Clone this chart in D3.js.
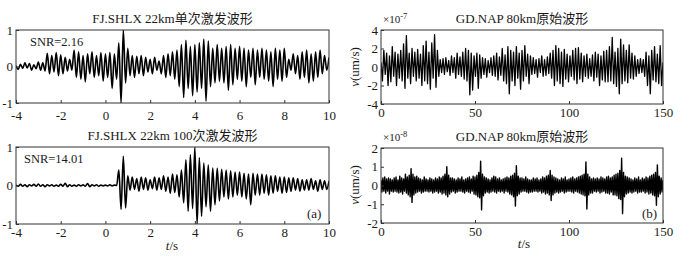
<!DOCTYPE html>
<html>
<head>
<meta charset="utf-8">
<script src="https://cdn.jsdelivr.net/npm/d3@7"></script>
<style>
body{margin:0;background:#fff;}
text{font-family:"Liberation Serif","Noto Sans CJK SC",serif;fill:#1a1a1a;}
</style>
</head>
<body>
<svg id="fig" width="690" height="257"></svg>
<script>
// ---- data ----
const titles = ['FJ.SHLX 22km单次激发波形', 'FJ.SHLX 22km 100次激发波形', 'GD.NAP 80km原始波形', 'GD.NAP 80km原始波形'];
const snrLabels = ['SNR=2.16', 'SNR=14.01'];
const tTicksA = [-4, -2, 0, 2, 4, 6, 8, 10];
const tTicksB = [0, 50, 100, 150];
const ampTicksA = [-1, 0, 1];
const velTicksB1 = [-4, -2, 0, 2, 4];
const velTicksB2 = [-2, -1, 0, 1, 2];
const expB1 = '-7', expB2 = '-8';

// single shot, t from -4 s, 0.1 s per sample
const dtA = 0.1;
const single = [
  0.02,-0.08,0.06,-0.05,0.1,-0.04,0.08,-0.1,0.05,-0.06,
  0.12,-0.1,0.1,-0.12,0.36,-0.2,0.3,-0.15,0.38,-0.25,
  0.32,-0.2,0.25,-0.12,0.2,-0.1,0.45,-0.3,0.4,-0.35,
  0.3,-0.42,0.35,-0.2,0.4,-0.3,0.3,-0.25,0.38,-0.4,
  0.35,-0.3,0.38,-0.6,0.34,-0.35,0.65,-1.0,1.0,-0.45,
  0.5,-0.25,0.3,-0.3,0.28,-0.2,0.3,-0.25,0.25,-0.15,
  0.2,-0.2,0.25,-0.1,0.15,-0.2,0.3,-0.3,0.35,-0.25,
  0.4,-0.35,0.45,-0.55,0.6,-0.85,0.72,-0.6,0.55,-0.8,
  0.6,-0.7,0.65,-0.6,0.75,-0.95,0.7,-0.55,0.5,-0.45,
  0.6,-0.4,0.5,-0.45,0.55,-0.65,0.6,-0.5,0.5,-0.35,
  0.55,-0.4,0.5,-0.55,0.45,-0.3,0.5,-0.5,0.45,-0.3,
  0.5,-0.35,0.45,-0.4,0.4,-0.55,0.5,-0.35,0.45,-0.4,
  0.5,-0.3,0.2,-0.1,0.35,-0.2,0.3,-0.35,0.4,-0.3,
  0.45,-0.45,0.35,-0.4,0.4,-0.3,0.45,-0.2,0.3,-0.1,
  0.25
];
// 100 stacks
const stacked = [
  0.01,-0.02,0.03,-0.02,0.02,-0.03,0.02,-0.01,0.03,-0.02,
  0.04,-0.02,0.02,-0.03,0.02,-0.01,0.02,-0.02,0.01,-0.02,
  0.03,-0.02,0.06,-0.03,0.02,-0.02,0.01,-0.02,0.02,-0.01,
  0.02,-0.02,0.05,-0.03,0.02,-0.01,0.02,-0.02,0.01,-0.01,
  0.01,-0.01,0.02,-0.01,0.01,0.0,0.4,-0.62,0.76,-0.58,
  0.25,-0.12,0.22,-0.1,0.18,-0.15,0.22,-0.1,0.2,-0.12,
  0.15,-0.08,0.22,-0.12,0.2,-0.1,0.25,-0.15,0.22,-0.2,
  0.3,-0.18,0.28,-0.3,0.4,-0.45,0.67,-0.67,0.8,-0.6,
  1.0,-1.0,0.72,-0.8,0.58,-0.55,0.53,-0.67,0.45,-0.5,
  0.45,-0.4,0.42,-0.3,0.4,-0.35,0.38,-0.3,0.35,-0.25,
  0.35,-0.3,0.32,-0.35,0.3,-0.5,0.32,-0.25,0.3,-0.25,
  0.3,-0.2,0.28,-0.25,0.25,-0.2,0.25,-0.15,0.22,-0.2,
  0.22,-0.18,0.2,-0.15,0.2,-0.12,0.18,-0.15,0.15,-0.12,
  0.15,-0.12,0.18,-0.1,0.12,-0.15,0.15,-0.1,0.12,-0.1,
  0.12
];
// raw record, x1e-7 um/s, 0.75 s per sample
const dtB1 = 0.75;
const rawB1 = [
  0.5,-1.5,1.8,-0.8,1.5,-2.0,1.2,-1.6,2.2,-1.0,1.6,-2.0,1.4,-1.2,1.8,-1.5,2.5,-2.3,3.4,-1.2,
  1.5,-1.8,2.0,-1.0,1.6,-1.5,1.9,-1.2,1.4,-2.0,2.3,-1.5,2.8,-1.8,1.6,-2.4,2.6,-1.2,3.5,-2.2,
  1.8,-1.0,0.8,-0.6,0.9,-0.8,1.0,-0.5,0.7,-0.9,1.2,-0.6,1.0,-1.2,1.5,-0.8,1.1,-1.0,1.6,-1.3,
  2.0,-1.5,1.8,-3.0,1.5,-2.5,1.2,-1.0,1.5,-2.3,1.3,-1.2,1.0,-0.8,0.9,-1.1,0.7,-0.6,1.0,-0.9,
  1.2,-1.0,1.5,-1.4,1.1,-0.9,2.0,-1.5,1.3,-1.8,2.2,-2.9,1.8,-1.5,1.6,-2.0,2.2,-1.2,1.5,-2.4,
  1.8,-1.5,2.3,-1.0,1.4,-1.8,1.2,-0.8,1.0,-0.7,0.8,-1.1,0.9,-0.6,1.2,-1.0,0.8,-0.9,1.1,-0.7,
  1.5,-1.2,1.8,-2.0,2.3,-1.5,2.0,-1.8,1.6,-2.1,1.9,-1.3,1.4,-1.6,1.2,-1.0,1.8,-1.4,2.0,-1.8,
  2.1,-1.3,1.5,-1.6,1.2,-1.0,1.4,-1.2,0.9,-1.0,1.3,-1.5,1.6,-1.1,1.4,-2.0,1.2,-1.4,1.7,-1.6,
  1.8,-1.6,2.2,-1.5,3.2,-1.8,1.6,-2.1,2.0,-2.9,3.0,-1.8,2.4,-1.5,1.8,-1.7,2.4,-1.2,1.5,-1.3,
  1.2,-1.0,0.8,-0.7,0.9,-0.6,0.8,-1.0,1.6,-2.0,1.2,-2.9,1.8,-1.4,2.2,-1.6,1.4,-1.8,2.3,-2.0,
  0.5
];
// raw record, x1e-8 um/s, 0.5 s per sample
const dtB2 = 0.5;
const rawB2 = [
  0.3,-0.35,0.4,-0.3,0.45,-0.4,0.35,-0.3,0.4,-0.45,
  0.35,-0.3,0.3,-0.35,0.4,-0.3,0.45,-0.35,0.3,-0.4,
  0.5,-0.35,0.4,-0.45,0.35,-0.3,0.6,-0.4,0.45,-0.5,
  0.55,-0.6,0.9,-0.9,0.6,-0.5,0.45,-0.4,0.5,-0.35,
  0.4,-0.3,0.35,-0.4,0.3,-0.35,0.45,-0.3,0.35,-0.3,
  0.3,-0.35,0.4,-0.3,0.35,-0.4,0.3,-0.35,0.4,-0.3,
  0.35,-0.4,0.45,-0.35,0.4,-0.45,0.5,-0.4,0.6,-0.5,
  1.0,-0.6,0.55,-0.45,0.4,-0.35,0.4,-0.3,0.35,-0.4,
  0.3,-0.35,0.4,-0.3,0.35,-0.3,0.45,-0.35,0.3,-0.4,
  0.35,-0.3,0.4,-0.35,0.45,-0.4,0.35,-0.3,0.5,-0.45,
  0.45,-0.5,0.55,-0.6,0.7,-0.65,1.3,-1.3,0.6,-0.55,
  0.45,-0.4,0.4,-0.35,0.35,-0.4,0.3,-0.35,0.4,-0.3,
  0.5,-0.35,0.45,-0.4,0.35,-0.3,0.4,-0.35,0.3,-0.3,
  0.35,-0.4,0.4,-0.3,0.45,-0.35,0.4,-0.45,0.5,-0.5,
  0.55,-0.6,0.65,-1.1,1.05,-0.55,0.5,-0.45,0.4,-0.35,
  0.4,-0.3,0.35,-0.3,0.45,-0.35,0.35,-0.4,0.3,-0.35,
  0.3,-0.35,0.4,-0.3,0.35,-0.3,0.4,-0.35,0.3,-0.3,
  0.35,-0.4,0.45,-0.35,0.4,-0.45,0.5,-0.4,0.55,-0.5,
  0.8,-0.8,0.55,-0.5,0.45,-0.4,0.4,-0.35,0.35,-0.4,
  0.3,-0.35,0.4,-0.3,0.35,-0.4,0.45,-0.35,0.3,-0.3,
  0.35,-0.3,0.4,-0.35,0.45,-0.4,0.35,-0.3,0.4,-0.35,
  0.45,-0.4,0.5,-0.45,0.55,-0.5,0.6,-0.55,1.25,-1.25,
  0.6,-0.5,0.45,-0.4,0.35,-0.4,0.4,-0.3,0.35,-0.35,
  0.4,-0.3,0.35,-0.4,0.45,-0.35,0.4,-0.3,0.35,-0.4,
  0.45,-0.4,0.5,-0.45,0.4,-0.35,0.45,-0.5,0.55,-0.5,
  0.6,-0.55,0.65,-0.7,0.8,-0.75,1.45,-1.5,0.7,-0.6,
  0.5,-0.45,0.45,-0.4,0.4,-0.35,0.35,-0.4,0.3,-0.35,
  0.4,-0.3,0.35,-0.4,0.45,-0.35,0.3,-0.35,0.4,-0.3,
  0.35,-0.4,0.45,-0.35,0.4,-0.45,0.5,-0.4,0.55,-0.5,
  0.6,-0.55,0.7,-1.05,1.1,-0.6,0.5,-0.45,0.4,-0.35,
  0.3
];

const svg = d3.select('#fig');

function drawPanel(o) {
  const x = d3.scaleLinear().domain(o.xdom).range([o.left, o.right]);
  const y = d3.scaleLinear().domain(o.ydom).range([o.bottom, o.top]);
  const pts = o.values.map((v, i) => [o.t0 + i * o.dt, v]);

  svg.append('clipPath').attr('id', 'clip' + o.id)
    .append('rect')
    .attr('x', o.left).attr('y', o.top)
    .attr('width', o.right - o.left).attr('height', o.bottom - o.top);

  const line = d3.line().x(d => x(d[0])).y(d => y(d[1])).curve(o.curve);
  svg.append('path')
    .datum(pts)
    .attr('clip-path', 'url(#clip' + o.id + ')')
    .attr('d', line)
    .attr('fill', 'none')
    .attr('stroke', '#000')
    .attr('stroke-width', o.lw)
    .attr('stroke-linejoin', 'round');

  const gx = svg.append('g')
    .attr('transform', `translate(0,${o.bottom})`)
    .call(d3.axisBottom(x).tickValues(o.xticks).tickSize(-3).tickPadding(o.xpad).tickFormat(d => String(d)));
  const gy = svg.append('g')
    .attr('transform', `translate(${o.left},0)`)
    .call(d3.axisLeft(y).tickValues(o.yticks).tickSize(-3).tickPadding(3).tickFormat(d => String(d)));
  [gx, gy].forEach(g => {
    g.attr('font-size', 13);
    g.select('.domain').remove();
    g.selectAll('line').attr('stroke', '#333');
  });

  svg.append('rect')
    .attr('x', o.left).attr('y', o.top)
    .attr('width', o.right - o.left).attr('height', o.bottom - o.top)
    .attr('fill', 'none').attr('stroke', '#333').attr('stroke-width', 1);

  svg.append('text')
    .attr('x', (o.left + o.right) / 2).attr('y', o.top - 7)
    .attr('text-anchor', 'middle').attr('font-size', 13)
    .text(o.title);
}

drawPanel({id: 'a1', left: 16, right: 329, top: 30, bottom: 103, xdom: [-4, 10], ydom: [-1, 1],
  t0: -4, dt: dtA, values: single, xticks: tTicksA, yticks: ampTicksA, xpad: 8,
  lw: 1.6, curve: d3.curveMonotoneX, title: titles[0]});
drawPanel({id: 'a2', left: 16, right: 329, top: 147, bottom: 224, xdom: [-4, 10], ydom: [-1, 1],
  t0: -4, dt: dtA, values: stacked, xticks: tTicksA, yticks: ampTicksA, xpad: 4,
  lw: 1.6, curve: d3.curveMonotoneX, title: titles[1]});
drawPanel({id: 'b1', left: 381, right: 663, top: 30, bottom: 104, xdom: [0, 150], ydom: [-4, 4],
  t0: 0, dt: dtB1, values: rawB1, xticks: tTicksB, yticks: velTicksB1, xpad: 4,
  lw: 1.3, curve: d3.curveLinear, title: titles[2]});
drawPanel({id: 'b2', left: 381, right: 663, top: 148, bottom: 223, xdom: [0, 150], ydom: [-2, 2],
  t0: 0, dt: dtB2, values: rawB2, xticks: tTicksB, yticks: velTicksB2, xpad: 4,
  lw: 1.4, curve: d3.curveLinear, title: titles[3]});

// annotations
svg.append('text').attr('x', 30).attr('y', 46).attr('font-size', 12.5).text(snrLabels[0]);
svg.append('text').attr('x', 24).attr('y', 163).attr('font-size', 12.5).text(snrLabels[1]);
svg.append('text').attr('x', 307).attr('y', 218).attr('font-size', 13).text('(a)');
svg.append('text').attr('x', 642).attr('y', 218).attr('font-size', 13).text('(b)');

[[23, expB1], [141, expB2]].forEach(([yy, e]) => {
  const t = svg.append('text').attr('x', 383).attr('y', yy).attr('font-size', 11);
  t.append('tspan').text('×10');
  t.append('tspan').attr('dy', -4).attr('font-size', 8.5).text(e);
});

[67, 185].forEach(cy => {
  const t = svg.append('text')
    .attr('transform', `translate(359,${cy}) rotate(-90)`)
    .attr('text-anchor', 'middle').attr('font-size', 13);
  t.append('tspan').attr('font-style', 'italic').text('v');
  t.append('tspan').text('(um/s)');
});

[[172, 250], [524, 248]].forEach(([cx, cy]) => {
  const t = svg.append('text').attr('x', cx).attr('y', cy)
    .attr('text-anchor', 'middle').attr('font-size', 13);
  t.append('tspan').attr('font-style', 'italic').text('t');
  t.append('tspan').text('/s');
});
</script>
</body>
</html>
